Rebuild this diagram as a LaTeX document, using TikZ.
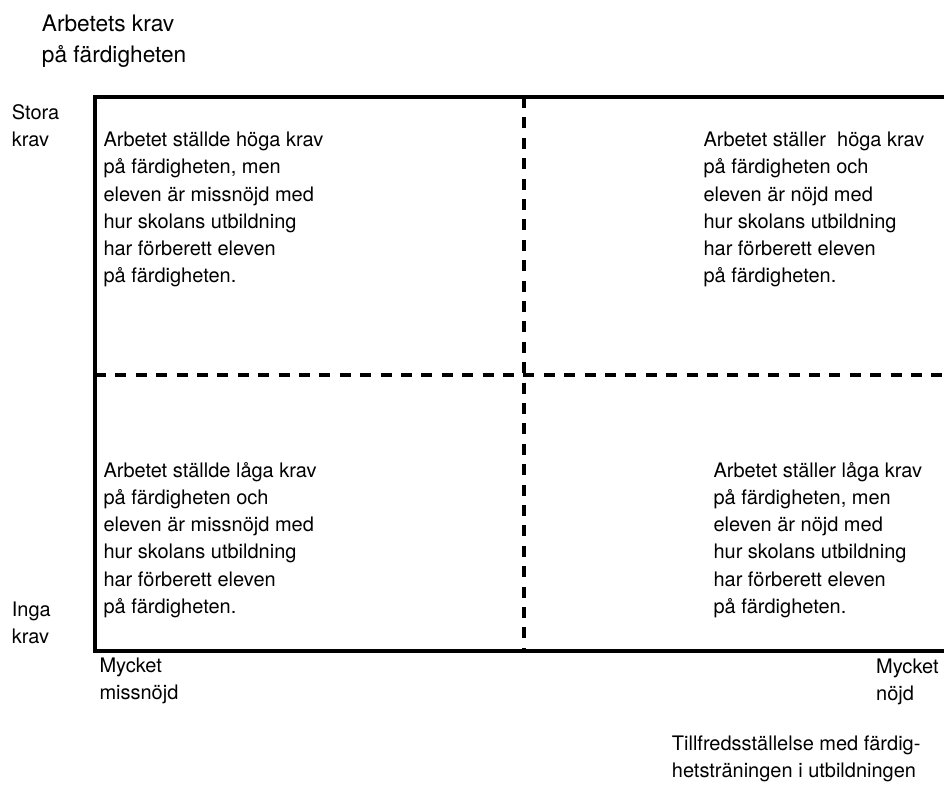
\documentclass[tikz,border=0pt]{standalone}
\usepackage{fontspec}
\setmainfont{TeX Gyre Heros}
\newcommand{\qlines}[1]{\begin{tabular}[t]{@{}l@{}}#1\end{tabular}}
\tikzset{
  frameline/.style={line width=3.5pt, line join=miter},
  divline/.style={line width=4pt, dash pattern=on 11pt off 9.4pt},
  txt/.style={anchor=base west, inner sep=0pt, font=\fontsize{20}{27.2}\selectfont},
  bigtxt/.style={anchor=base west, inner sep=0pt, font=\fontsize{22.7}{31}\selectfont}
}
\begin{document}
\begin{tikzpicture}[x=1pt,y=-1pt]
\useasboundingbox (0,0) rectangle (944,791);
% frame corners and division points
\coordinate (tl) at (95,97);
\coordinate (tr) at (944,97);
\coordinate (bl) at (95,651);
\coordinate (br) at (944,651);
\coordinate (mt) at (523.7,97);
\coordinate (mb) at (523.7,651);
\coordinate (ml) at (95,374.5);
\coordinate (mr) at (944,374.5);
% dashed dividers
\draw[divline] (mt) -- (mb);
\draw[divline] (ml) -- (mr);
% solid frame
\draw[frameline] (tr) -- (tl) -- (bl) -- (br);
% axis labels
\node[bigtxt] (ytitle) at (41.7,31.7) {\qlines{Arbetets krav\\på färdigheten}};
\node[txt] (ytop) at (11.7,119.5) {\qlines{Stora\\krav}};
\node[txt] (ybot) at (11.7,616) {\qlines{Inga\\krav}};
\node[txt] (xleft) at (99.3,672.5) {\qlines{Mycket\\missnöjd}};
\node[txt] (xright) at (876,673) {\qlines{Mycket\\nöjd}};
\node[txt] (xtitle) at (671.7,750) {\qlines{Tillfredsställelse med färdig-\\hetsträningen i utbildningen}};
% quadrant texts
\node[txt] (qtl) at (103.3,146.7) {\qlines{Arbetet ställde höga krav\\på färdigheten, men\\eleven är missnöjd med\\hur skolans utbildning\\har förberett eleven\\på färdigheten.}};
\node[txt] (qtr) at (703.3,146.7) {\qlines{Arbetet ställer~ höga krav\\på färdigheten och\\eleven är nöjd med\\hur skolans utbildning\\har förberett eleven\\på färdigheten.}};
\node[txt] (qbl) at (103.3,477.3) {\qlines{Arbetet ställde låga krav\\på färdigheten och\\eleven är missnöjd med\\hur skolans utbildning\\har förberett eleven\\på färdigheten.}};
\node[txt] (qbr) at (713.3,477.3) {\qlines{Arbetet ställer låga krav\\på färdigheten, men\\eleven är nöjd med\\hur skolans utbildning\\har förberett eleven\\på färdigheten.}};
\end{tikzpicture}
\end{document}
